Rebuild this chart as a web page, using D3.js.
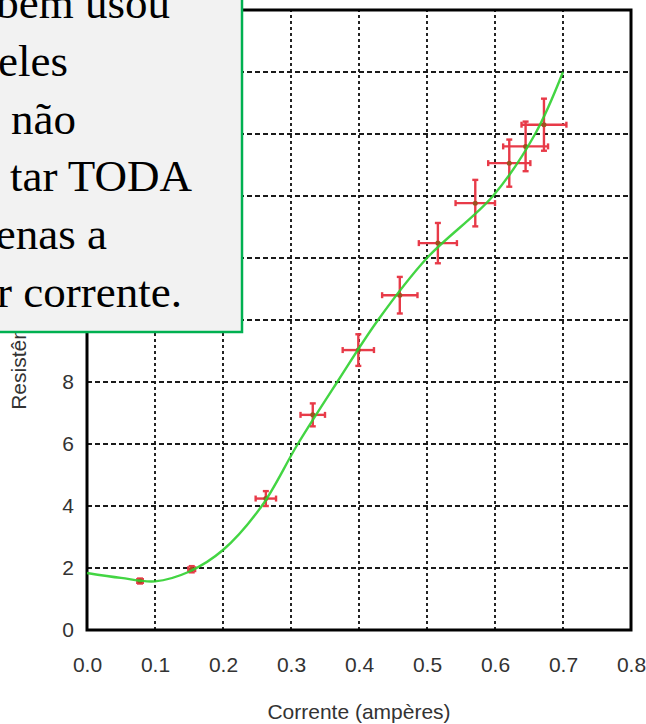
<!DOCTYPE html>
<meta charset="utf-8">
<script src="https://d3js.org/d3.v7.min.js"></script>
<style>
  body { margin: 0; background: #fff; }
</style>
<body>
<svg width="646" height="724"></svg>
<script>
// measured points (current in A, resistance in ohms) with error bars
var current       = [0.078, 0.154, 0.263, 0.332, 0.399, 0.460, 0.516, 0.571, 0.621, 0.645, 0.672];
var resistance    = [1.58, 1.96, 4.24, 6.94, 9.03, 10.8, 12.48, 13.77, 15.06, 15.6, 16.3];
var currentErr    = [0.004, 0.005, 0.015, 0.018, 0.023, 0.026, 0.028, 0.029, 0.031, 0.033, 0.033];
var resistanceErr = [0.08, 0.1, 0.24, 0.37, 0.51, 0.59, 0.65, 0.75, 0.76, 0.8, 0.84];

// fitted curve
var fitX = [0, 0.05, 0.1, 0.15, 0.2, 0.257, 0.31, 0.368, 0.428, 0.5, 0.597, 0.659, 0.7];
var fitY = [1.84, 1.68, 1.57, 1.88, 2.58, 4, 6, 8, 10, 12, 14, 16, 18];

var xTicks = [0, 0.1, 0.2, 0.3, 0.4, 0.5, 0.6, 0.7, 0.8];
var yTicks = [0, 2, 4, 6, 8, 10, 12, 14, 16, 18, 20];

var boxLines = ["bem usou", "eles", "não", "tar TODA", "enas a", "r corrente."];

var svg = d3.select("svg");

var x = d3.scaleLinear().domain([0, 0.8]).range([87, 631]);
var y = d3.scaleLinear().domain([0, 20]).range([630, 10]);

var boxBottom = 332;   // note box covers the upper-left corner

var g = svg.append("g");

// grid
g.append("g").selectAll("line")
    .data(yTicks.slice(1, -1))
    .enter().append("line")
    .attr("x1", x(0)).attr("x2", x(0.8))
    .attr("y1", function(d) { return y(d); })
    .attr("y2", function(d) { return y(d); })
    .attr("stroke", "#1a1a1a")
    .attr("stroke-width", 1.9)
    .attr("stroke-dasharray", "5,3");

g.append("g").selectAll("line")
    .data(xTicks.slice(1, -1))
    .enter().append("line")
    .attr("y1", y(0)).attr("y2", y(20))
    .attr("x1", function(d) { return x(d); })
    .attr("x2", function(d) { return x(d); })
    .attr("stroke", "#1a1a1a")
    .attr("stroke-width", 1.9)
    .attr("stroke-dasharray", "3,3");

// axes (labels only, frame drawn below); y labels under the note box are hidden anyway
var xAxis = g.append("g")
    .attr("transform", "translate(0," + y(0) + ")")
    .call(d3.axisBottom(x).tickValues(xTicks).tickFormat(d3.format(".1f")).tickSize(0).tickPadding(27));
var yAxis = g.append("g")
    .attr("transform", "translate(" + x(0) + ",0)")
    .call(d3.axisLeft(y).tickValues(yTicks.filter(function(d) { return y(d) > boxBottom + 8; }))
      .tickFormat(d3.format("d")).tickSize(0).tickPadding(13));

[xAxis, yAxis].forEach(function(a) {
  a.select(".domain").remove();
  a.selectAll("text")
    .attr("font-family", "Liberation Sans, Arial, sans-serif")
    .attr("font-size", 21)
    .attr("fill", "#333");
});

// frame
g.append("rect")
    .attr("x", x(0)).attr("y", y(20))
    .attr("width", x(0.8) - x(0))
    .attr("height", y(0) - y(20))
    .attr("fill", "none")
    .attr("stroke", "#000")
    .attr("stroke-width", 3);

// error bars
var pts = current.map(function(c, i) {
  return {x: c, y: resistance[i], ex: currentErr[i], ey: resistanceErr[i]};
});

var bars = g.append("g")
    .attr("stroke", "#e83a48")
    .attr("stroke-width", 2.4)
    .selectAll("g")
    .data(pts)
    .enter().append("g");

bars.append("line")
    .attr("x1", function(d) { return x(d.x - d.ex); })
    .attr("x2", function(d) { return x(d.x + d.ex); })
    .attr("y1", function(d) { return y(d.y); })
    .attr("y2", function(d) { return y(d.y); });
bars.append("line")
    .attr("x1", function(d) { return x(d.x); })
    .attr("x2", function(d) { return x(d.x); })
    .attr("y1", function(d) { return y(d.y - d.ey); })
    .attr("y2", function(d) { return y(d.y + d.ey); });
// caps
bars.each(function(d) {
  var s = d3.select(this), c = 3;
  [d.x - d.ex, d.x + d.ex].forEach(function(v) {
    s.append("line").attr("x1", x(v)).attr("x2", x(v))
      .attr("y1", y(d.y) - c).attr("y2", y(d.y) + c);
  });
  [d.y - d.ey, d.y + d.ey].forEach(function(v) {
    s.append("line").attr("y1", y(v)).attr("y2", y(v))
      .attr("x1", x(d.x) - c).attr("x2", x(d.x) + c);
  });
});
bars.append("circle")
    .attr("cx", function(d) { return x(d.x); })
    .attr("cy", function(d) { return y(d.y); })
    .attr("r", 2.5)
    .attr("fill", "#a05020")
    .attr("stroke", "none");

// fit line
var fit = fitX.map(function(v, i) { return [v, fitY[i]]; });
g.append("path")
    .datum(fit)
    .attr("fill", "none")
    .attr("stroke", "#2fd02f")
    .attr("stroke-opacity", 0.9)
    .attr("stroke-width", 2.4)
    .attr("d", d3.line()
      .x(function(d) { return x(d[0]); })
      .y(function(d) { return y(d[1]); })
      .curve(d3.curveCatmullRom));

// axis titles
svg.append("text")
    .attr("x", (x(0) + x(0.8)) / 2)
    .attr("y", 719)
    .attr("text-anchor", "middle")
    .attr("font-family", "Liberation Sans, Arial, sans-serif")
    .attr("font-size", 21)
    .attr("fill", "#333")
    .text("Corrente (ampères)");

svg.append("text")
    .attr("transform", "translate(26," + (y(0) + y(20)) / 2 + ") rotate(-90)")
    .attr("text-anchor", "middle")
    .attr("font-family", "Liberation Sans, Arial, sans-serif")
    .attr("font-size", 21)
    .attr("fill", "#333")
    .text("Resistência (ohms)");

// overlaid note box (cropped at the left and top)
var note = svg.append("g");
note.append("rect")
    .attr("x", -10).attr("y", -10)
    .attr("width", 252).attr("height", boxBottom + 10)
    .attr("fill", "#f2f2f2")
    .attr("stroke", "#00b050")
    .attr("stroke-width", 2.5);

var lineEnds = [170, 68, 76, 192, 107, 182];
note.selectAll("text")
    .data(boxLines)
    .enter().append("text")
    .attr("x", function(d, i) { return lineEnds[i]; })
    .attr("y", function(d, i) { return 18 + i * 57.8; })
    .attr("text-anchor", "end")
    .attr("font-family", "Liberation Serif, Times New Roman, serif")
    .attr("font-size", 45)
    .attr("fill", "#000")
    .text(function(d) { return d; });
</script>
</body>
